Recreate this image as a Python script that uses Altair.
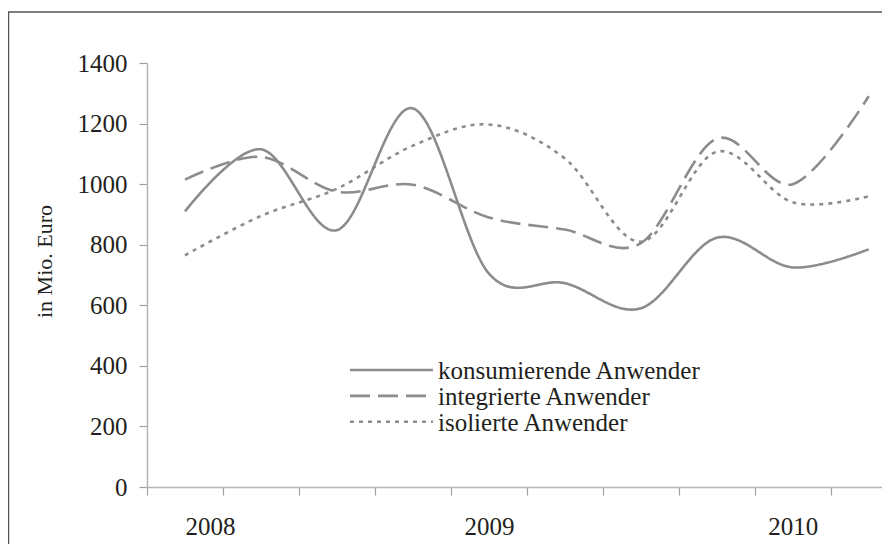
import altair as alt
import pandas as pd

quarters = list(range(1, 11))  # 2008 Q1 ... 2010 Q2
year_labels = ["2008", "2009", "2010"]
series_names = ["konsumierende Anwender", "integrierte Anwender", "isolierte Anwender"]
konsum = [910, 1115, 848, 1250, 705, 673, 590, 823, 725, 785]
integ = [1015, 1090, 975, 998, 890, 850, 805, 1150, 1000, 1290]
isol = [765, 895, 985, 1127, 1197, 1085, 810, 1107, 940, 960]

rows = []
for name, vals in zip(series_names, [konsum, integ, isol]):
    for q, v in zip(quarters, vals):
        rows.append({"q": q, "v": v, "s": name})
df = pd.DataFrame(rows)
legend_df = pd.DataFrame({"s": series_names})

FONT = "Liberation Serif"
GRAY = "#8c8c8f"
TXT = "#231f20"

label_expr = (
    f"datum.value == 0.5 ? '{year_labels[0]}' : "
    f"datum.value == 4.5 ? '{year_labels[1]}' : "
    f"datum.value == 8.5 ? '{year_labels[2]}' : ''"
)

dash_scale = alt.Scale(domain=series_names, range=[[1, 0], [20, 8], [4, 5]])

lines = alt.Chart(df).mark_line(interpolate="cardinal", strokeWidth=2.6, color=GRAY).encode(
    x=alt.X(
        "q:Q",
        scale=alt.Scale(domain=[0.5, 10.175], nice=False, zero=False),
        axis=alt.Axis(
            values=[i + 0.5 for i in range(10)],
            labelExpr=label_expr,
            labelOffset=38,
            labelOverlap=False,
            labelFont=FONT, labelFontSize=25, labelColor=TXT,
            labelPadding=19,
            domainColor="#b5b5b5", domainWidth=1.5,
            tickColor="#a0a0a0", tickSize=8, tickWidth=1.2,
            grid=False, title=None,
        ),
    ),
    y=alt.Y(
        "v:Q",
        scale=alt.Scale(domain=[0, 1400], nice=False),
        axis=alt.Axis(
            values=[0, 200, 400, 600, 800, 1000, 1200, 1400],
            format="d",
            labelFont=FONT, labelFontSize=25, labelColor=TXT,
            labelPadding=12,
            domainColor="#b5b5b5", domainWidth=1.5,
            tickColor="#a0a0a0", tickSize=8, tickWidth=1.2,
            grid=False,
            title="in Mio. Euro",
            titleFont=FONT, titleFontSize=22, titleFontWeight="normal", titleColor=TXT,
            titleAngle=270, titleX=-103, titleY=198,
            titleAlign="center", titleBaseline="middle",
        ),
    ),
    strokeDash=alt.StrokeDash("s:N", sort=series_names, scale=dash_scale, legend=None),
)

leg_y = alt.Y(
    "s:N",
    sort=series_names,
    scale=alt.Scale(type="point", domain=series_names, range=[307, 358.7], padding=0),
    axis=None,
)

leg_rules = alt.Chart(legend_df).mark_rule(strokeWidth=2.6, color=GRAY).encode(
    x=alt.value(203), x2=alt.value(286),
    y=leg_y,
    strokeDash=alt.StrokeDash("s:N", sort=series_names, scale=dash_scale, legend=None),
)

leg_text = alt.Chart(legend_df).mark_text(
    align="left", baseline="alphabetic", dy=9, font=FONT, fontSize=25, color=TXT
).encode(
    x=alt.value(291),
    y=leg_y,
    text="s:N",
)

frame = alt.Chart(pd.DataFrame({"a": [0]})).mark_rect(
    filled=False, stroke="#555555", strokeWidth=1.5
).encode(
    x=alt.value(-138.5), x2=alt.value(900),
    y=alt.value(-51), y2=alt.value(700),
)

chart = alt.layer(frame, lines, leg_rules, leg_text).resolve_scale(y="independent").properties(
    width=735, height=424,
    autosize=alt.AutoSizeParams(type="none"),
    padding={"left": 139, "top": 55, "right": 0, "bottom": 57},
).configure_view(stroke=None)

chart.save("out.html", embed_options={"renderer": "svg", "actions": False})
